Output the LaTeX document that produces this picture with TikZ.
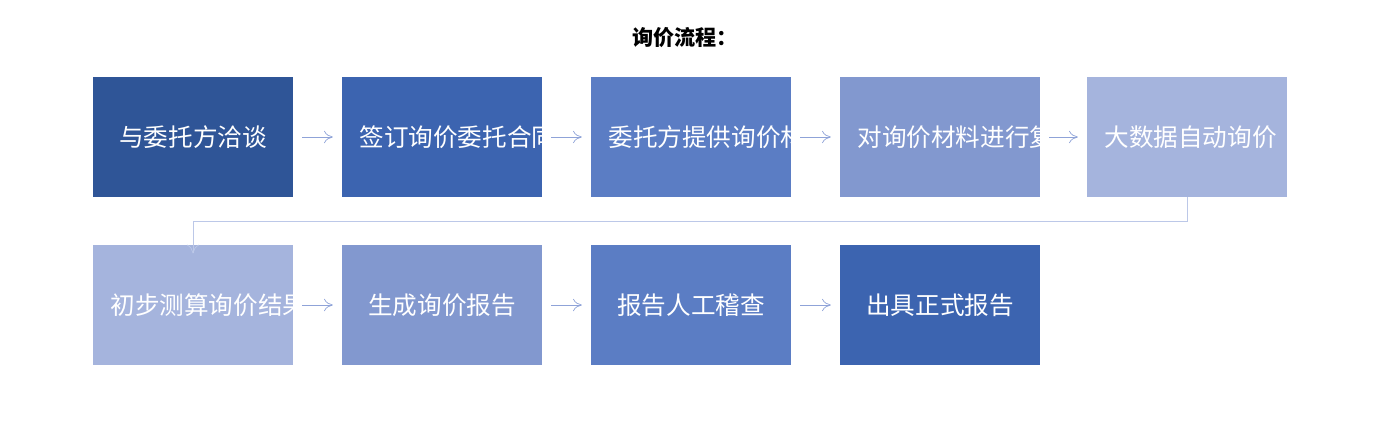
\documentclass[tikz,border=0pt]{standalone}
\usepackage{fontspec}
\setmainfont{Noto Sans CJK SC}
\usetikzlibrary{arrows.meta}
\definecolor{bA}{HTML}{2F5597}
\definecolor{bB}{HTML}{3C64B0}
\definecolor{bC}{HTML}{5B7DC4}
\definecolor{bD}{HTML}{8298CF}
\definecolor{bE}{HTML}{A5B4DD}
\definecolor{lnk}{HTML}{8FA3D8}
\begin{document}
\begin{tikzpicture}[x=0.02cm, y=-0.02cm,
  every node/.style={font=\fontsize{14pt}{19pt}\selectfont},
  box/.style={rectangle, minimum width=4cm, minimum height=2.4cm, text width=3.3cm, align=center, text=white, inner sep=0pt},
  link/.style={draw=lnk, thin, -{To[length=5pt,width=7pt]}}]
\useasboundingbox (0,0) rectangle (1395,420);

    % Title
    \node[font=\fontsize{12pt}{14pt}\selectfont\bfseries] (title) at (685,38) {询价流程：};

    % Row 1
    \node[box, fill=bA] (s1) at (193,137) {与委托方洽谈};
    \node[box, fill=bB] (s2) at (442,137) {签订询价委托合同};
    \node[box, fill=bC] (s3) at (691,137) {委托方提供询价材料};
    \node[box, fill=bD] (s4) at (940,137) {对询价材料进行复核};
    \node[box, fill=bE] (s5) at (1187,137) {大数据自动询价};

    % Row 2
    \node[box, fill=bE] (s6) at (193,305) {初步测算询价结果};
    \node[box, fill=bD] (s7) at (442,305) {生成询价报告};
    \node[box, fill=bC] (s8) at (691,305) {报告人工稽查};
    \node[box, fill=bB] (s9) at (940,305) {出具正式报告};

    % Links
    \foreach \a/\b in {s1/s2, s2/s3, s3/s4, s4/s5, s6/s7, s7/s8, s8/s9}
      \draw[link, shorten <=5pt, shorten >=5pt] (\a) -- (\b);
    \coordinate (turn) at (1187,221);
    \draw[link, draw=lnk!60] (s5.south) -- (turn) -| ([yshift=-5pt]s6.north);

\end{tikzpicture}
\end{document}
